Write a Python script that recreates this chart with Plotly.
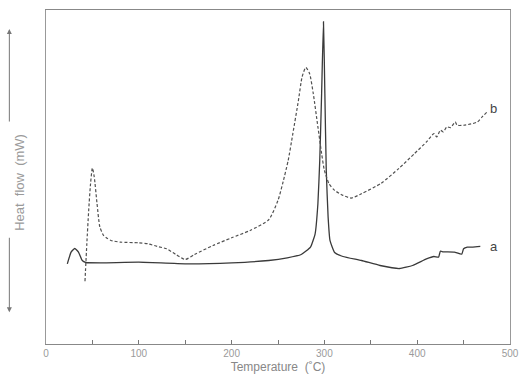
import plotly.graph_objects as go

# Curve a (solid)
a_x = [23, 27, 31, 35, 39, 43, 60, 100, 150, 200, 240, 260, 275, 285, 290, 293, 295, 297, 299,
       300.5, 302, 304, 306, 311, 320, 340, 360, 381, 395, 410, 418, 423, 425, 428, 440, 448,
       450, 454, 460, 468]
a_y = [24.0, 27.5, 28.6, 27.5, 25.0, 24.4, 24.3, 24.5, 24.0, 24.3, 25.0, 25.8, 26.8, 29.0, 33.0,
       42.0, 55.0, 75.0, 96.5, 75.0, 52.0, 38.0, 31.0, 27.4, 26.2, 25.0, 23.5, 22.6, 23.5, 25.5,
       26.2, 26.0, 27.8, 27.6, 27.5, 26.9, 28.5, 29.0, 29.0, 29.2]

# Curve b (dashed)
b_x = [42, 44, 46, 48, 50, 52, 55, 58, 62, 65, 70, 80, 100, 110, 120, 130, 140, 150, 160, 180,
       200, 220, 240, 250, 255, 261, 266, 272, 276, 280, 284, 288, 293, 297, 300, 305, 311, 320,
       329, 340, 361, 380, 397, 410, 418, 421, 425, 428, 432, 436, 441, 443, 450, 460, 465, 470, 475]
b_y = [18.8, 30, 40, 48, 52.7, 50, 42, 35.1, 32.5, 31.8, 31, 30.5, 30.3, 30, 29.2, 28.5, 26.8,
       25.3, 26.8, 29.5, 31.8, 34, 37.2, 43, 48, 55, 63, 72.9, 80, 82.8, 81, 75, 65, 57, 52, 48,
       46, 44.5, 43.7, 45, 48.1, 52.5, 57, 60.5, 63, 62, 64, 63.5, 65, 64.8, 66.5, 65.5, 65.5,
       66, 66.5, 68, 69.4]

x_ticks = [0, 50, 100, 150, 200, 250, 300, 350, 400, 450, 500]
x_labels = ["0", "", "100", "", "200", "", "300", "", "400", "", "500"]

fig = go.Figure()
fig.add_trace(go.Scatter(x=a_x, y=a_y, mode="lines",
                         line=dict(color="#3a3a3a", width=1.3, shape="spline", smoothing=0.4),
                         showlegend=False))
fig.add_trace(go.Scatter(x=b_x, y=b_y, mode="lines",
                         line=dict(color="#505050", width=1.2, dash="3px,2px",
                                   shape="spline", smoothing=0.6),
                         showlegend=False))

fig.add_annotation(x=476, y=29.2, text="a", showarrow=False, xanchor="left",
                   font=dict(size=13, color="#444", family="Liberation Sans"))
fig.add_annotation(x=476, y=70.5, text="b", showarrow=False, xanchor="left",
                   font=dict(size=13, color="#444", family="Liberation Sans"))

# y-axis label with arrows
fig.add_annotation(xref="paper", yref="paper", x=-0.079, y=0.485, text="Heat  flow  (mW)",
                   textangle=-90, showarrow=False,
                   font=dict(size=13, color="#9a9a9a", family="Liberation Sans"))
fig.add_annotation(xref="paper", yref="paper", x=-0.079, y=0.943, ax=0, ay=94,
                   axref="pixel", ayref="pixel", text="", showarrow=True,
                   arrowhead=2, arrowsize=1, arrowwidth=1, arrowcolor="#777")
fig.add_annotation(xref="paper", yref="paper", x=-0.079, y=0.095, ax=0, ay=-76,
                   axref="pixel", ayref="pixel", text="", showarrow=True,
                   arrowhead=2, arrowsize=1, arrowwidth=1, arrowcolor="#777")

fig.update_layout(
    width=528, height=380,
    margin=dict(l=46, r=15, t=9, b=35),
    paper_bgcolor="white", plot_bgcolor="white",
    font=dict(family="Liberation Sans", color="#999"),
    xaxis=dict(range=[0, 500], tickvals=x_ticks, ticktext=x_labels,
               ticks="inside", ticklen=4, tickcolor="#777", showgrid=False, zeroline=False,
               showline=True, linecolor="#888", linewidth=1, mirror=True,
               tickfont=dict(size=10, color="#9a9a9a"),
               title=dict(text="Temperature  (˚C)", font=dict(size=12, color="#888"), standoff=4)),
    yaxis=dict(range=[0, 100], showticklabels=False, ticks="", showgrid=False, zeroline=False,
               showline=True, linecolor="#999", linewidth=1, mirror=True),
)

fig.write_html("out.html")
